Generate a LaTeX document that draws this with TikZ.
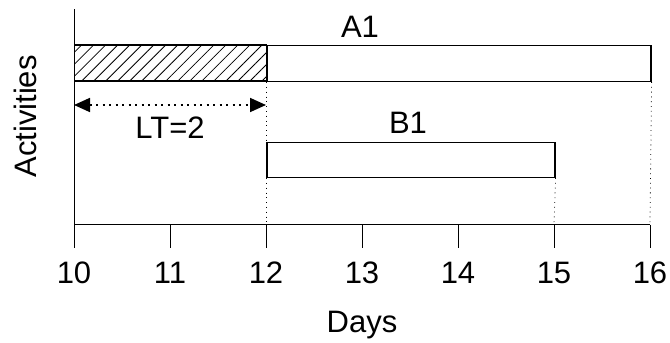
\documentclass[tikz,border=0pt]{standalone}
\usepackage{fontspec}
\setmainfont{Liberation Sans}
\usetikzlibrary{patterns.meta,arrows.meta}
\begin{document}
\begin{tikzpicture}[x=1pt,y=-1pt,
  lbl/.style={font=\fontsize{31}{36}\selectfont, inner sep=0pt},
  bar/.style={draw, line width=1.6pt},
  axisline/.style={line width=0.9pt},
  guide/.style={dash pattern=on 0.8pt off 4pt, line width=0.8pt},
  span/.style={dash pattern=on 2pt off 4.5pt, line width=1.8pt,
    {Triangle[length=16pt,width=14pt]}-{Triangle[length=16pt,width=14pt]}}]
  \useasboundingbox (0,0) rectangle (670,343);

  % axes
  \coordinate (origin) at (74,224.5);
  \coordinate (ytop) at (74,9);
  \coordinate (xend) at (650,224.5);
  \draw[axisline] (ytop) -- (origin) -- (xend);

  % ticks and day labels
  \foreach \d [count=\i from 0] in {10,...,16} {
    \coordinate (t\d) at (74+96*\i,224.5);
    \coordinate (tb\d) at (74+96*\i,248);
    \draw[axisline] (t\d) -- (tb\d);
    \node[lbl, anchor=base] (n\d) at (74+96*\i,283) {\d};
  }

  % activity bars
  \node[bar, minimum width=192pt, minimum height=36pt, inner sep=0pt, anchor=north west,
        pattern={Lines[angle=45,distance=8.5pt,line width=0.8pt]}] (lead) at (74,44.5) {};
  \node[bar, minimum width=384pt, minimum height=36pt, inner sep=0pt, anchor=north west] (a1) at (266,44.5) {};
  \node[bar, minimum width=288pt, minimum height=35pt, inner sep=0pt, anchor=north west] (b1) at (266,141.5) {};

  % guide lines down to the axis
  \draw[guide] (a1.south west) -- (t12);
  \draw[guide] (b1.south east) -- (t15);
  \draw[guide] (a1.south east) -- (t16);

  % lead time span
  \coordinate (lt0) at (74,105);
  \coordinate (lt1) at (266,105);
  \draw[span] (lt0) -- (lt1);

  % labels
  \node[lbl, anchor=base] (la1) at (360,37) {A1};
  \node[lbl, anchor=base] (lb1) at (408,133) {B1};
  \node[lbl, anchor=base] (llt) at (170,138) {LT=2};
  \node[lbl, anchor=base] (ldays) at (362,332) {Days};
  \node[lbl, anchor=base, rotate=90] (lact) at (36,116.5) {Activities};
\end{tikzpicture}
\end{document}
